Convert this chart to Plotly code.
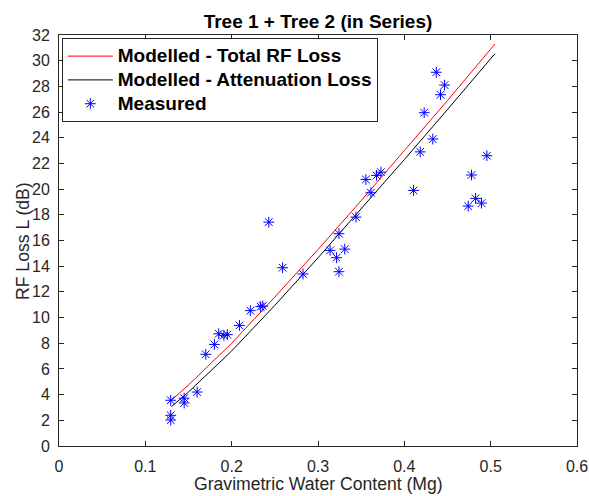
import plotly.graph_objects as go

# Measured data (gravimetric water content, RF loss dB)
meas_x = [0.1294, 0.1294, 0.1294, 0.145, 0.145, 0.160, 0.170, 0.180, 0.185, 0.191,
          0.195, 0.209, 0.2216, 0.2336, 0.236, 0.243, 0.259, 0.2826, 0.314, 0.3215,
          0.3243, 0.3243, 0.331, 0.344, 0.3555, 0.3613, 0.3678, 0.3729, 0.4107, 0.4184,
          0.423, 0.433, 0.437, 0.4419, 0.4466, 0.474, 0.4778, 0.4825, 0.4894, 0.4956]
meas_y = [3.56, 2.39, 2.02, 3.72, 3.35, 4.2, 7.14, 7.91, 8.74, 8.61,
          8.67, 9.39, 10.54, 10.85, 10.9, 17.43, 13.88, 13.39, 15.23, 14.66,
          16.53, 13.57, 15.33, 17.82, 20.75, 19.72, 21.07, 21.32, 19.9, 22.9,
          25.95, 23.9, 29.1, 27.35, 28.1, 18.68, 21.1, 19.28, 18.91, 22.6]

# Model curves
model_x = [0.13, 0.15, 0.2, 0.25, 0.3, 0.35, 0.4, 0.45, 0.5, 0.505]
total_loss = [3.55, 4.75, 8.0, 11.6, 15.3, 19.1, 23.0, 26.9, 30.9, 31.3]
atten_loss = [3.05, 4.2, 7.4, 10.95, 14.65, 18.45, 22.3, 26.2, 30.15, 30.55]

series_names = ["Modelled - Total RF Loss", "Modelled - Attenuation Loss", "Measured"]

x_ticks = [0, 0.1, 0.2, 0.3, 0.4, 0.5, 0.6]
x_tick_labels = ["0", "0.1", "0.2", "0.3", "0.4", "0.5", "0.6"]
y_ticks = list(range(0, 33, 2))
y_tick_labels = [str(v) for v in y_ticks]

title_text = "Tree 1 + Tree 2 (in Series)"
x_title = "Gravimetric Water Content (Mg)"
y_title = "RF Loss L (dB)"

FONT = "Liberation Sans, Arial, Helvetica, sans-serif"
AX = "#262626"
W, H = 589, 496


def leg(name):
    return '<span style="font-size:19px">' + name + "</span>"


fig = go.Figure()
fig.add_trace(go.Scatter(x=model_x, y=total_loss, mode="lines",
                         name=leg(series_names[0]),
                         line=dict(color="#ff0000", width=1)))
fig.add_trace(go.Scatter(x=model_x, y=atten_loss, mode="lines",
                         name=leg(series_names[1]),
                         line=dict(color="#000000", width=1)))
fig.add_trace(go.Scatter(x=meas_x, y=meas_y, mode="markers",
                         name=leg(series_names[2]),
                         marker=dict(symbol="asterisk-open", size=9,
                                     color="#0000ff", line=dict(color="#0000ff", width=1))))

fig.update_layout(
    width=W, height=H,
    margin=dict(l=58.5, r=12, t=34.5, b=50.3, pad=0),
    paper_bgcolor="white", plot_bgcolor="white",
    font=dict(family=FONT, color=AX, size=16),
    title=dict(text="<b>" + title_text + "</b>", x=0.5, xref="paper", xanchor="center",
               y=1 - 21 / H, yanchor="middle", yref="container",
               font=dict(size=19, color="#000000", family=FONT)),
    legend=dict(x=0.0054, y=0.9922, xanchor="left", yanchor="top",
                bgcolor="white", bordercolor=AX, borderwidth=1, itemwidth=45,
                font=dict(size=16, color="#000000", family=FONT, weight="bold")),
    showlegend=True,
    annotations=[
        dict(text=x_title, xref="paper", yref="paper", x=0.5, y=-0.093,
             xanchor="center", yanchor="middle", showarrow=False,
             font=dict(size=17.6, color=AX, family=FONT)),
        dict(text=y_title, xref="paper", yref="paper", x=-0.0705, y=0.5,
             xanchor="center", yanchor="middle", showarrow=False, textangle=-90,
             font=dict(size=17.6, color=AX, family=FONT)),
    ],
)
fig.update_xaxes(range=[0, 0.6], tickvals=x_ticks, ticktext=x_tick_labels,
                 showgrid=False, zeroline=False, showline=True, linecolor=AX, linewidth=1,
                 mirror="ticks", ticks="inside", ticklen=5, tickcolor=AX, automargin=False,
                 tickfont=dict(size=16, color=AX), ticklabelstandoff=6,
                 ticklabeloverflow="allow")
fig.update_yaxes(range=[0, 32], tickvals=y_ticks, ticktext=y_tick_labels,
                 showgrid=False, zeroline=False, showline=True, linecolor=AX, linewidth=1,
                 mirror="ticks", ticks="inside", ticklen=5, tickcolor=AX, automargin=False,
                 tickfont=dict(size=16, color=AX), ticklabelstandoff=5)

fig.write_html("out.html", config={"displayModeBar": False},
               post_script="document.body.style.margin='0';")
